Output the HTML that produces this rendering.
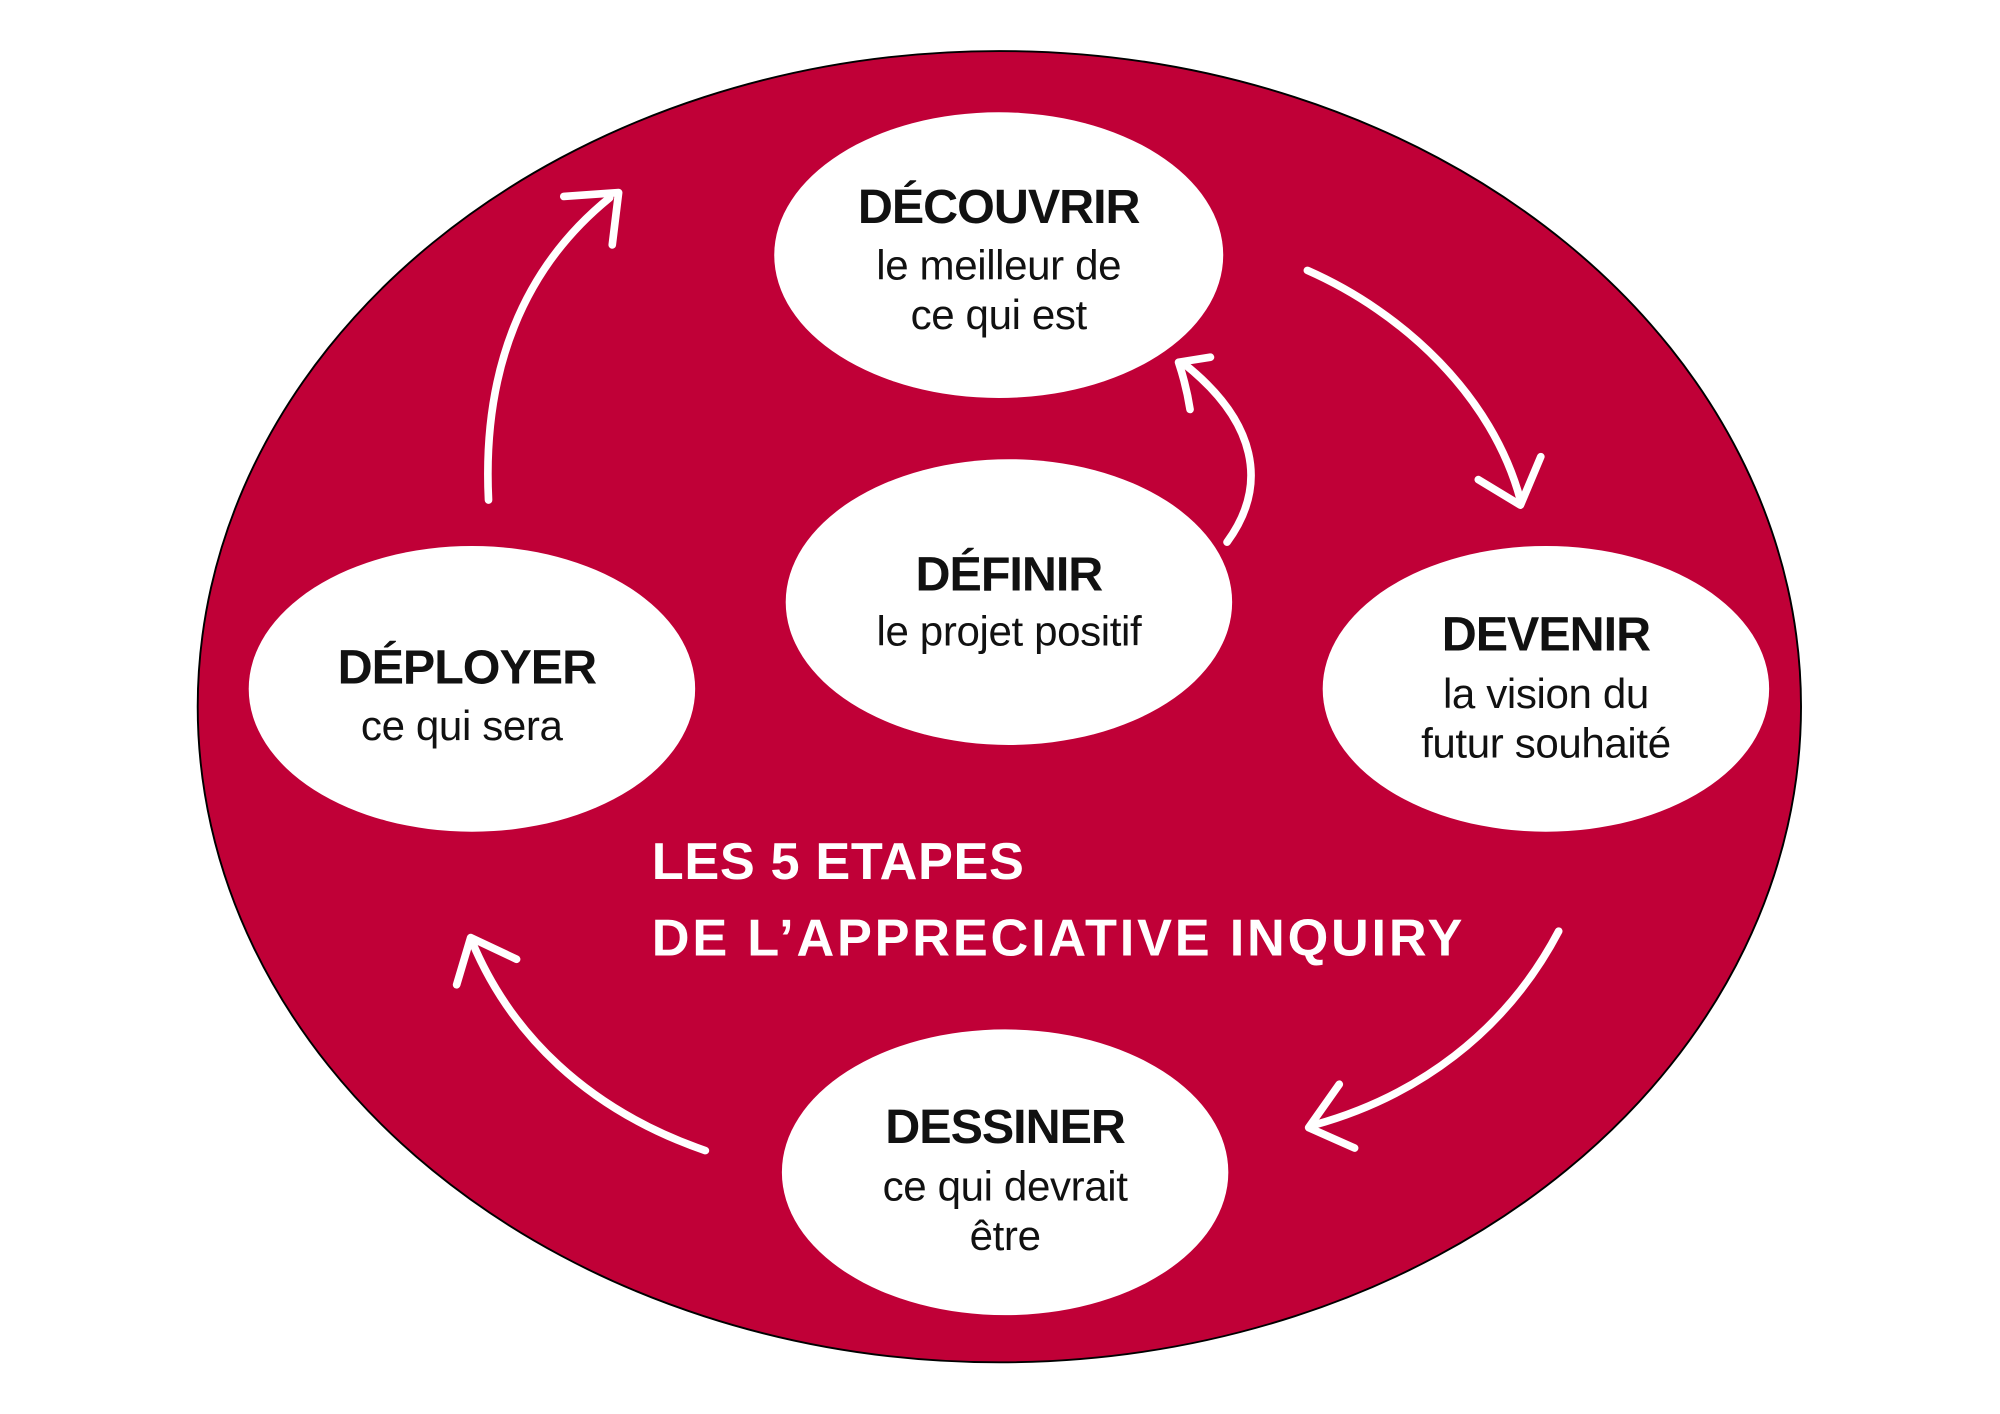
<!DOCTYPE html>
<html><head><meta charset="utf-8"><style>
html,body{margin:0;padding:0;background:#fff;}
svg{display:block;}
text{font-family:"Liberation Sans",sans-serif;}
.t{font-weight:bold;font-size:38px;fill:#111;text-anchor:middle;letter-spacing:-0.8px}
.s{font-size:33px;fill:#111;text-anchor:middle;letter-spacing:-0.3px}
.w{font-weight:bold;font-size:41px;fill:#fff;letter-spacing:0.5px}
.a{fill:none;stroke:#fff;stroke-width:6;stroke-linecap:round;stroke-linejoin:round}
</style></head><body>
<svg width="2000" height="1414" viewBox="0 0 1568 1108.5" preserveAspectRatio="none">
<rect width="1568" height="1108.5" fill="#fff"/>
<ellipse cx="783.5" cy="554" rx="628.5" ry="514" fill="#C00037" stroke="#000" stroke-width="1.5"/>
<g fill="#fff">
<ellipse cx="783" cy="200" rx="176" ry="112"/>
<ellipse cx="791" cy="472" rx="175" ry="112"/>
<ellipse cx="370" cy="540" rx="175" ry="112"/>
<ellipse cx="1212" cy="540" rx="175" ry="112"/>
<ellipse cx="788" cy="919" rx="175" ry="112"/>
</g>
<text class="t" x="783" y="175">DÉCOUVRIR</text>
<text class="s" x="783" y="219">le meilleur de</text>
<text class="s" x="783" y="258">ce qui est</text>
<text class="t" x="791" y="463">DÉFINIR</text>
<text class="s" x="791" y="506">le projet positif</text>
<text class="t" x="366" y="536">DÉPLOYER</text>
<text class="s" x="362" y="580">ce qui sera</text>
<text class="t" x="1212" y="510">DEVENIR</text>
<text class="s" x="1212" y="555">la vision du</text>
<text class="s" x="1212" y="594">futur souhaité</text>
<text class="t" x="788" y="896">DESSINER</text>
<text class="s" x="788" y="941">ce qui devrait</text>
<text class="s" x="788" y="980">être</text>
<text class="w" x="511" y="689">LES 5 ETAPES</text>
<text class="w" x="511" y="749" textLength="636">DE L’APPRECIATIVE INQUIRY</text>
<path class="a" d="M383,392 C378,290 410,210 478,155"/>
<path class="a" d="M442,154 L485,151 L480,192"/>
<path class="a" d="M1025,212 C1100,245 1170,310 1192,392"/>
<path class="a" d="M1159,376 L1192,396 L1208,358"/>
<path class="a" d="M962,425 C995,380 985,330 928,285"/>
<path class="a" d="M933,321 C931,308 928,296 924,284 L949,280"/>
<path class="a" d="M1222,730 C1180,810 1110,860 1030,882"/>
<path class="a" d="M1050,850 L1026,884 L1062,900"/>
<path class="a" d="M553,902 C460,870 400,810 370,738"/>
<path class="a" d="M358,772 L369,735 L405,752"/>
</svg>
</body></html>
